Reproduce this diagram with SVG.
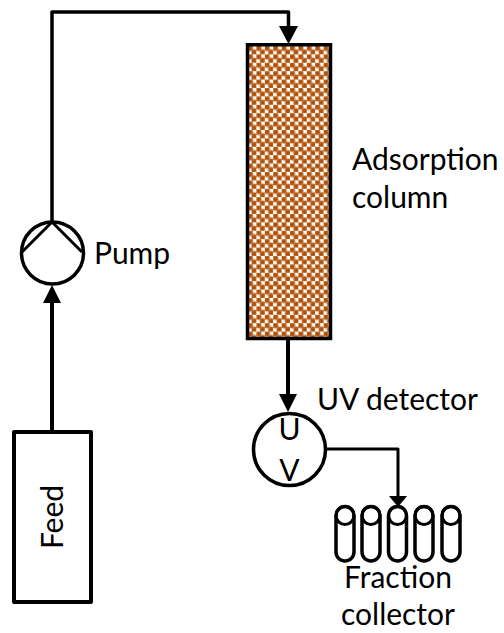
<svg xmlns="http://www.w3.org/2000/svg" width="504" height="633" viewBox="0 0 504 633">
<style>
.l{fill:none;stroke:#000;stroke-linejoin:round}
.t{font-family:Lato,"Open Sans",sans-serif;font-size:30px;fill:#000}
</style>
<defs>
<pattern id="p" width="8.4" height="8.4" patternUnits="userSpaceOnUse" x="248" y="46">
<rect width="8.4" height="8.4" fill="#fff"/>
<circle cx="2.1" cy="2.1" r="3" fill="#bd6520"/>
<circle cx="6.3" cy="6.300" r="3" fill="#bd6520"/>
<circle cx="2.1" cy="2.1" r="1.6" fill="#a9500c"/>
<circle cx="6.3" cy="6.300" r="1.6" fill="#a9500c"/>
</pattern>
<g id="tube"><rect x="-9" y="0" width="18" height="54.500" rx="9" fill="none" stroke="#000" stroke-width="3.500"/><ellipse cx="0" cy="9" rx="9" ry="9" fill="none" stroke="#000" stroke-width="3"/></g>
</defs>
<g id="connectors">
<path class="l" stroke-width="3.500" d="M52 223V12H288.500V27"/>
<path d="M279 26H298L288.500 44Z"/>
<path class="l" stroke-width="4" d="M52 431V302"/>
<path d="M43 303H61L52 285Z"/>
<path class="l" stroke-width="4" d="M288 340V395"/>
<path d="M279 394H297L288 412Z"/>
<path class="l" stroke-width="3" d="M327 449H398V497"/>
<path d="M389 496H407L398 507Z"/>
</g>
<g id="column"><rect x="247.500" y="44.750" width="83" height="293.750" fill="url(#p)" stroke="#000" stroke-width="3.500"/></g>
<g id="pump" class="l" stroke-width="3.500">
<circle cx="52.500" cy="253" r="31"/>
<path stroke-width="3" d="M22 252L52 222L82 252"/>
</g>
<g id="uv"><circle class="l" stroke-width="3.500" cx="289.500" cy="449.500" r="36"/>
<text class="t" x="289.500" y="440" text-anchor="middle">U</text>
<text class="t" x="289.500" y="481" text-anchor="middle">V</text></g>
<g id="feed"><rect class="l" stroke-width="4" x="14" y="432" width="77" height="170"/>
<text class="t" transform="translate(63 517) rotate(-90)" text-anchor="middle">Feed</text></g>
<g id="collector">
<use href="#tube" x="345" y="506.500"/><use href="#tube" x="371" y="506.500"/><use href="#tube" x="397.500" y="506.500"/><use href="#tube" x="424" y="506.500"/><use href="#tube" x="451" y="506.500"/>
</g>
<g id="labels">
<text class="t" x="94" y="264">Pump</text>
<text class="t" x="352" y="170">Adsorption</text>
<text class="t" x="352" y="208">column</text>
<text class="t" x="317" y="410">UV detector</text>
<text class="t" x="398" y="588" text-anchor="middle">Fraction</text>
<text class="t" x="398" y="625" text-anchor="middle">collector</text>
</g>
</svg>
